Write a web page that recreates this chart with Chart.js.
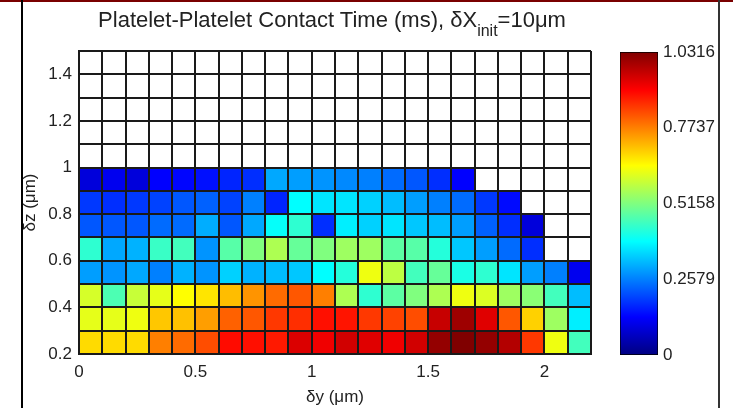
<!DOCTYPE html>
<html>
<head>
<meta charset="utf-8">
<script src="https://cdn.jsdelivr.net/npm/chart.js@4.4.0/dist/chart.umd.min.js"></script>
<style>
  html, body { margin: 0; padding: 0; background: #fff; }
  #wrap { position: relative; width: 733px; height: 408px; overflow: hidden; font-family: 'Liberation Sans', Arial, sans-serif; }
  #main { position: absolute; left: 0; top: 0; }
  #cbar { position: absolute; left: 600px; top: 0; }
  #title { position: absolute; left: 0; top: 9px; width: 664px; text-align: center; font-size: 22px; line-height: 22px; color: #222; white-space: nowrap; }
  #title .sub { font-size: 16px; position: relative; top: 9px; }
  .frame-top { position: absolute; left: 0; top: 0; width: 733px; height: 2px; background: #7a0000; }
  .frame-left { position: absolute; left: 21px; top: 0; width: 2px; height: 408px; background: #000; }
  .frame-right { position: absolute; left: 718px; top: 0; width: 2px; height: 408px; background: #333; }
</style>
</head>
<body>
<div id="wrap">
  <canvas id="main" width="610" height="408"></canvas>
  <canvas id="cbar" width="133" height="408"></canvas>
  <div id="title">Platelet-Platelet Contact Time (ms), δX<span class="sub">init</span>=10μm</div>
  <div class="frame-top"></div>
  <div class="frame-left"></div>
  <div class="frame-right"></div>
</div>
<script>
document.addEventListener('DOMContentLoaded', function() {

    // ---- data: contact time (ms) per cell ----
    // left edge of each δy column (μm)
    const dyCols = [0, 0.1, 0.2, 0.3, 0.4, 0.5, 0.6, 0.7, 0.8, 0.9, 1.0,
                    1.1, 1.2, 1.3, 1.4, 1.5, 1.6, 1.7, 1.8, 1.9, 2.0, 2.1];
    // bottom edge of each δz row (μm)
    const dzRows = [0.2, 0.3, 0.4, 0.5, 0.6, 0.7, 0.8, 0.9];

    const time_dz02 = [0.681, 0.681, 0.681, 0.774, 0.794, 0.825, 0.892, 0.887, 0.877, 0.939, 0.918,
                       0.949, 0.934, 0.918, 0.949, 1.011, 1.0316, 1.011, 0.980, 0.846, 0.629, 0.454];
    const time_dz03 = [0.619, 0.619, 0.629, 0.701, 0.707, 0.743, 0.805, 0.815, 0.846, 0.856, 0.887,
                       0.882, 0.846, 0.836, 0.825, 0.959, 1.001, 0.934, 0.815, 0.691, 0.547, 0.371];
    const time_dz04 = [0.603, 0.464, 0.588, 0.619, 0.645, 0.671, 0.712, 0.753, 0.794, 0.815, 0.774,
                       0.562, 0.433, 0.480, 0.516, 0.562, 0.629, 0.609, 0.547, 0.526, 0.454, 0.320];
    const time_dz05 = [0.289, 0.279, 0.299, 0.258, 0.309, 0.279, 0.340, 0.309, 0.320, 0.330, 0.387,
                       0.423, 0.629, 0.578, 0.454, 0.490, 0.413, 0.433, 0.361, 0.289, 0.258, 0.113];
    const time_dz06 = [0.433, 0.299, 0.309, 0.444, 0.454, 0.279, 0.475, 0.516, 0.562, 0.490, 0.516,
                       0.547, 0.547, 0.480, 0.475, 0.423, 0.330, 0.289, 0.237, 0.175, null, null];
    const time_dz07 = [0.217, 0.217, 0.217, 0.237, 0.237, 0.304, 0.217, 0.299, 0.392, 0.433, 0.175,
                       0.371, 0.340, 0.361, 0.330, 0.320, 0.289, 0.227, 0.175, 0.093, null, null];
    const time_dz08 = [0.186, 0.175, 0.186, 0.196, 0.217, 0.227, 0.196, 0.258, 0.165, 0.387, 0.361,
                       0.361, 0.340, 0.320, 0.289, 0.258, 0.237, 0.186, 0.139, null, null, null];
    const time_dz09 = [0.093, 0.113, 0.093, 0.129, 0.134, 0.144, 0.165, 0.175, 0.299, 0.289, 0.279,
                       0.268, 0.258, 0.237, 0.217, 0.175, 0.129, null, null, null, null, null];

    const rowValues = [time_dz02, time_dz03, time_dz04, time_dz05, time_dz06, time_dz07, time_dz08, time_dz09];

    const colorTicks = [0, 0.2579, 0.5158, 0.7737, 1.0316];
    const CMAX = 1.0316;
    const CELL = 0.1;

    // ---- helpers ----
    function jet(t) {
        t = Math.max(0, Math.min(1, t));
        const c = x => Math.round(255 * Math.max(0, Math.min(1, 1.5 - Math.abs(x))));
        return `rgb(${c(4 * t - 3)}, ${c(4 * t - 2)}, ${c(4 * t - 1)})`;
    }

    const FONT = { family: "'Liberation Sans', Arial, sans-serif", size: 17 };
    const TEXT = '#222';
    const LINE = '#1a1a1a';

    // one floating-bar dataset per δz row
    const datasets = dzRows.map((dz, r) => {
        const pts = [];
        const cols = [];
        rowValues[r].forEach((v, i) => {
            if (v === null) return;
            pts.push({ x: dyCols[i] + CELL / 2, y: [dz, dz + CELL] });
            cols.push(jet(v / CMAX));
        });
        return { data: pts, backgroundColor: cols, borderWidth: 0 };
    });

    new Chart(document.getElementById('main'), {
        type: 'bar',
        data: { datasets: datasets },
        options: {
            responsive: false,
            animation: false,
            events: [],
            layout: { padding: { top: 51, right: 19, left: 0, bottom: 0 } },
            plugins: { legend: { display: false }, tooltip: { enabled: false } },
            datasets: { bar: { grouped: false, barPercentage: 1, categoryPercentage: 1 } },
            scales: {
                x: {
                    type: 'linear', min: 0, max: 2.2, offset: false,
                    grid: { offset: false, color: LINE, lineWidth: 2, z: 1, drawTicks: false },
                    border: { color: LINE, width: 2, z: 1 },
                    ticks: {
                        stepSize: 0.1, autoSkip: false, maxRotation: 0, minRotation: 0,
                        padding: 8, font: FONT, color: TEXT,
                        callback: v => {
                            const r = Math.round(v * 2) / 2;
                            return Math.abs(v - r) < 1e-6 ? String(r) : '';
                        }
                    },
                    title: { display: true, text: 'δy (μm)', font: FONT, color: TEXT, padding: { top: 0, bottom: 0 } },
                    afterFit: s => { s.height = 54; }
                },
                y: {
                    type: 'linear', min: 0.2, max: 1.5,
                    grid: { color: LINE, lineWidth: 2, z: 1, drawTicks: false },
                    border: { color: LINE, width: 2, z: 1 },
                    ticks: {
                        stepSize: 0.1, autoSkip: false, padding: 7, font: FONT, color: TEXT,
                        callback: v => {
                            const r = Math.round(v * 5) / 5;
                            return (Math.abs(v - r) < 1e-6 && v < 1.45) ? String(Math.round(r * 10) / 10) : '';
                        }
                    },
                    title: { display: true, text: 'δz (μm)', font: FONT, color: TEXT, padding: { top: 20, bottom: 0 } },
                    afterFit: s => { s.width = 79; }
                }
            }
        }
    });

    // colour bar
    new Chart(document.getElementById('cbar'), {
        type: 'bar',
        data: {
            labels: [''],
            datasets: [{
                data: [CMAX],
                backgroundColor: ctx => {
                    const area = ctx.chart.chartArea;
                    if (!area) return '#888';
                    const g = ctx.chart.ctx.createLinearGradient(0, area.bottom, 0, area.top);
                    [0, 0.125, 0.375, 0.625, 0.875, 1].forEach(p => g.addColorStop(p, jet(p)));
                    return g;
                },
                borderColor: '#000', borderWidth: 1, borderSkipped: false,
                barPercentage: 1, categoryPercentage: 1
            }]
        },
        options: {
            responsive: false,
            animation: false,
            events: [],
            layout: { padding: { top: 52, left: 20, right: 0, bottom: 53 } },
            plugins: { legend: { display: false }, tooltip: { enabled: false } },
            scales: {
                x: { display: false },
                y: {
                    position: 'right', min: 0, max: CMAX,
                    afterBuildTicks: s => { s.ticks = colorTicks.map(v => ({ value: v })); },
                    afterFit: s => { s.width = 75; },
                    grid: { display: false, drawTicks: false },
                    border: { display: false },
                    ticks: { padding: 5, font: FONT, color: TEXT, callback: v => String(v) }
                }
            }
        }
    });

});
</script>
</body>
</html>
